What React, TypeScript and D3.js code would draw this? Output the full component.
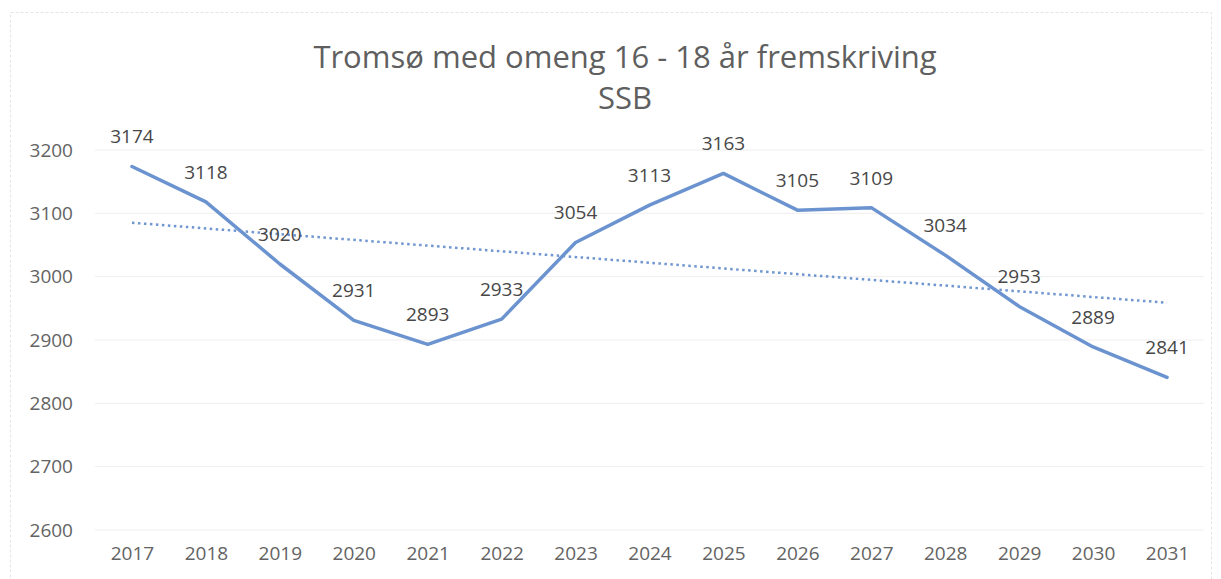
import React, { useRef, useEffect } from 'react'
import * as d3 from 'd3'

const years = ['2017', '2018', '2019', '2020', '2021', '2022', '2023', '2024', '2025', '2026', '2027', '2028', '2029', '2030', '2031']
const values = [3174, 3118, 3020, 2931, 2893, 2933, 3054, 3113, 3163, 3105, 3109, 3034, 2953, 2889, 2841]
const yTicks = [2600, 2700, 2800, 2900, 3000, 3100, 3200]
const titleLines = ['Tromsø med omeng 16 - 18 år fremskriving', 'SSB']

const W = 1221
const H = 579
const FONT = '"Open Sans", sans-serif'

const App = () => {
  const svgRef = useRef<SVGSVGElement | null>(null)

  useEffect(() => {
    const svg = d3.select(svgRef.current)
    svg.selectAll('*').remove()

    const margin = { top: 150, right: 17, bottom: 49, left: 95 }
    const width = W - margin.left - margin.right
    const height = H - margin.top - margin.bottom

    // outer faint frame
    svg.append('rect')
      .attr('x', 10.5).attr('y', 12.5)
      .attr('width', W - 20).attr('height', H)
      .attr('fill', 'white')
      .attr('stroke', '#e4e4e4')
      .attr('stroke-dasharray', '3,2')

    const g = svg.append('g').attr('transform', `translate(${margin.left},${margin.top})`)

    const x = d3.scalePoint().domain(years).range([0, width]).padding(0.5)
    const y = d3.scaleLinear().domain([3200, 2600]).range([0, height])

    // gridlines
    g.append('g')
      .selectAll('line')
      .data(yTicks)
      .join('line')
      .attr('x1', 0)
      .attr('x2', width)
      .attr('y1', (d) => y(d))
      .attr('y2', (d) => y(d))
      .attr('stroke', '#eeeeee')
      .attr('stroke-width', 1)

    // y axis labels
    const yAxis = g.append('g')
      .call(d3.axisLeft(y).tickValues(yTicks).tickFormat(d3.format('d')).tickSize(0).tickPadding(22))
    yAxis.select('.domain').remove()
    yAxis.selectAll('text')
      .style('font-family', FONT)
      .style('font-size', '19px')
      .attr('fill', '#636363')

    // x axis labels
    const xAxis = g.append('g')
      .attr('transform', `translate(0,${height})`)
      .call(d3.axisBottom(x).tickSize(0).tickPadding(17))
    xAxis.select('.domain').remove()
    xAxis.selectAll('text')
      .style('font-family', FONT)
      .style('font-size', '19px')
      .attr('fill', '#636363')

    // linear trendline (least squares)
    const idx = values.map((_, i) => i)
    const mx = d3.mean(idx) as number
    const my = d3.mean(values) as number
    const slope =
      d3.sum(idx, (i) => (i - mx) * (values[i] - my)) / d3.sum(idx, (i) => (i - mx) * (i - mx))
    const intercept = my - slope * mx
    const trend = [0, values.length - 1].map((i) => ({ year: years[i], v: intercept + slope * i }))

    g.append('path')
      .datum(trend)
      .attr('fill', 'none')
      .attr('stroke', '#6f96d0')
      .attr('stroke-width', 2.5)
      .attr('stroke-dasharray', '2.5,3.5')
      .attr('d', d3.line<{ year: string; v: number }>().x((d) => x(d.year) as number).y((d) => y(d.v)))

    // main series
    const data = years.map((yr, i) => ({ year: yr, v: values[i] }))
    g.append('path')
      .datum(data)
      .attr('fill', 'none')
      .attr('stroke', '#6b93cf')
      .attr('stroke-width', 3.5)
      .attr('stroke-linejoin', 'round')
      .attr('stroke-linecap', 'round')
      .attr('d', d3.line<{ year: string; v: number }>().x((d) => x(d.year) as number).y((d) => y(d.v)))

    // data labels
    g.append('g')
      .selectAll('text')
      .data(data)
      .join('text')
      .attr('x', (d) => x(d.year) as number)
      .attr('y', (d) => y(d.v) - 23)
      .attr('text-anchor', 'middle')
      .style('font-family', FONT)
      .style('font-size', '19px')
      .attr('fill', '#474747')
      .text((d) => d.v)

    // title
    svg.append('g')
      .selectAll('text')
      .data(titleLines)
      .join('text')
      .attr('x', 625)
      .attr('y', (d, i) => 68 + i * 41)
      .attr('text-anchor', 'middle')
      .style('font-family', FONT)
      .style('font-size', '31px')
      .attr('fill', '#5f5f5f')
      .text((d) => d)
  }, [])

  return <svg ref={svgRef} width={W} height={H} style={{ display: 'block', position: 'absolute', left: 0, top: 0 }}></svg>
}

export default App
